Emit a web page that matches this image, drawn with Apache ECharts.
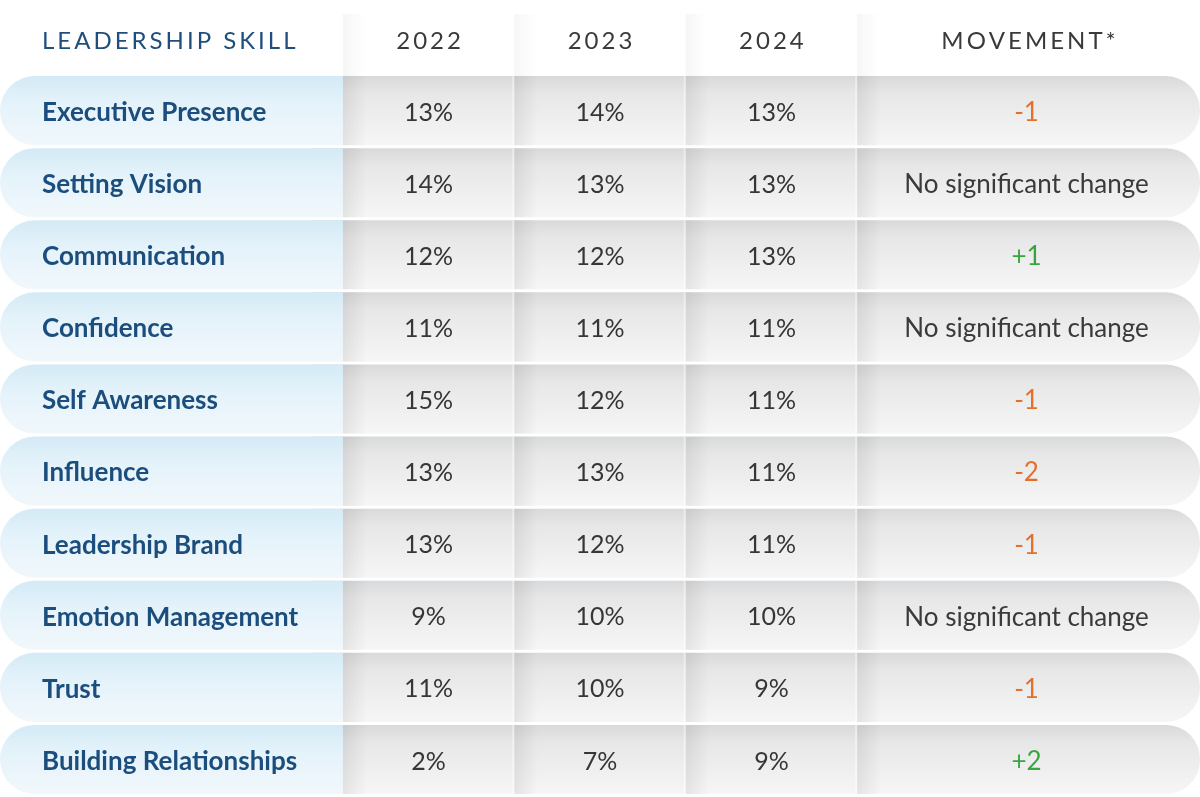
<!DOCTYPE html>
<html>
<head>
<meta charset="utf-8">
<style>
  html, body { margin: 0; padding: 0; background: #ffffff; }
  #chart { width: 1200px; height: 797px; }
</style>
<script src="https://cdn.jsdelivr.net/npm/echarts@6/dist/echarts.min.js"></script>
</head>
<body>
<div id="chart"></div>
<script>
// ---- data ----
const headers = ['LEADERSHIP SKILL', '2022', '2023', '2024', 'MOVEMENT*'];
const skills = ['Executive Presence', 'Setting Vision', 'Communication', 'Confidence', 'Self Awareness',
  'Influence', 'Leadership Brand', 'Emotion Management', 'Trust', 'Building Relationships'];
const v2022 = [13, 14, 12, 11, 15, 13, 13, 9, 11, 2];
const v2023 = [14, 13, 12, 11, 12, 13, 12, 10, 10, 7];
const v2024 = [13, 13, 13, 11, 11, 11, 11, 10, 9, 9];
const movement = [-1, null, 1, null, -1, -2, -1, null, -1, 2]; // null = no significant change
const noChangeText = 'No significant change';

// column spans in axis units: skill, 2022, 2023, 2024, movement
const colSpans = [2, 1, 1, 1, 2];
const colStarts = colSpans.map((s, i) => colSpans.slice(0, i).reduce((a, b) => a + b, 0));
const totalUnits = colSpans.reduce((a, b) => a + b, 0);

const yCats = ['header'].concat(skills);

function spaced(t) { return t.split('').join('\u2009'); }
function moveText(m) { return m === null ? noChangeText : (m > 0 ? '+' + m : String(m)); }
function moveColor(m) { return m === null ? '#3a3a3a' : (m > 0 ? '#3aa53c' : '#e3702c'); }

const FONT = 'Lato, "Noto Sans", sans-serif';

function renderRow(params, api) {
  const r = api.value(1);
  const c = api.coord([0, r]);
  const bandH = api.size([0, 1])[1];
  const unit = api.size([1, 0])[0];
  const x0 = c[0];
  const yc = c[1];
  const top = yc - bandH / 2;
  const h = bandH - 3;
  const mid = top + h / 2 + 2;
  const i = r - 1;
  const children = [];
  const grayX = x0 + colStarts[1] * unit - 30;
  const grayW = totalUnits * unit - (colStarts[1] * unit - 30);
  children.push({
    type: 'rect',
    shape: { x: grayX, y: top, width: grayW, height: h, r: [0, 34, 34, 0] },
    style: {
      fill: new echarts.graphic.LinearGradient(0, 0, 0, 1, [
        { offset: 0, color: '#d8d9da' },
        { offset: 0.25, color: '#e7e7e8' },
        { offset: 1, color: '#f6f6f6' }
      ])
    }
  });
  // column shadows
  for (let k = 1; k < colSpans.length; k++) {
    const bx = x0 + colStarts[k] * unit;
    children.push({
      type: 'rect',
      shape: { x: bx, y: top, width: 24, height: h },
      style: {
        fill: new echarts.graphic.LinearGradient(0, 0, 1, 0, [
          { offset: 0, color: 'rgba(0,0,0,0.075)' },
          { offset: 1, color: 'rgba(0,0,0,0)' }
        ])
      }
    });
    if (k > 1) {
      children.push({
        type: 'rect',
        shape: { x: bx - 2, y: top, width: 2, height: h },
        style: { fill: 'rgba(255,255,255,0.45)' }
      });
    }
  }
  // blue skill cell
  children.push({
    type: 'rect',
    shape: { x: x0, y: top, width: colSpans[0] * unit, height: h, r: [35, 0, 0, 35] },
    style: {
      fill: new echarts.graphic.LinearGradient(0, 0, 0, 1, [
        { offset: 0, color: '#d3eaf6' },
        { offset: 0.35, color: '#e3f2fa' },
        { offset: 1, color: '#f1f8fc' }
      ])
    }
  });
  children.push({
    type: 'text',
    style: {
      text: skills[i], x: x0 + 42, y: mid, fill: '#1b4d7d',
      font: 'bold 26px ' + FONT, textAlign: 'left', textVerticalAlign: 'middle'
    }
  });
  const vals = [v2022[i] + '%', v2023[i] + '%', v2024[i] + '%'];
  vals.forEach((t, k) => {
    children.push({
      type: 'text',
      style: {
        text: t, x: x0 + (colStarts[k + 1] + colSpans[k + 1] / 2) * unit, y: mid, fill: '#363636',
        font: '25px ' + FONT, textAlign: 'center', textVerticalAlign: 'middle'
      }
    });
  });
  children.push({
    type: 'text',
    style: {
      text: moveText(movement[i]), x: x0 + (colStarts[4] + colSpans[4] / 2) * unit - 2, y: mid,
      fill: moveColor(movement[i]),
      font: '26px ' + FONT, textAlign: 'center', textVerticalAlign: 'middle'
    }
  });
  return { type: 'group', children: children };
}

function renderHeader(params, api) {
  const c = api.coord([0, 0]);
  const bandH = api.size([0, 1])[1];
  const unit = api.size([1, 0])[0];
  const x0 = c[0];
  const top = c[1] - bandH / 2;
  const children = [];
  for (let k = 1; k < colSpans.length; k++) {
    const bx = x0 + colStarts[k] * unit;
    children.push({
      type: 'rect',
      shape: { x: bx, y: top + 10, width: 22, height: bandH - 10 },
      style: {
        fill: new echarts.graphic.LinearGradient(0, 0, 1, 0, [
          { offset: 0, color: 'rgba(0,0,0,0.035)' },
          { offset: 1, color: 'rgba(0,0,0,0)' }
        ])
      }
    });
  }
  headers.forEach((t, k) => {
    const first = k === 0;
    children.push({
      type: 'text',
      style: {
        text: spaced(t),
        x: first ? x0 + 42 : x0 + (colStarts[k] + colSpans[k] / 2) * unit,
        y: c[1] + 1,
        fill: first ? '#1f4e7d' : '#3a3a3a',
        font: '24px ' + FONT,
        textAlign: first ? 'left' : 'center', textVerticalAlign: 'middle'
      }
    });
  });
  return { type: 'group', children: children };
}

const chart = echarts.init(document.getElementById('chart'));
chart.setOption({
  animation: false,
  backgroundColor: '#ffffff',
  grid: { left: 0, right: 0, top: 4, bottom: 0 },
  xAxis: { type: 'value', min: 0, max: totalUnits, show: false },
  yAxis: { type: 'category', data: yCats, inverse: true, show: false },
  series: [
    {
      type: 'custom',
      renderItem: renderHeader,
      data: [[0, 0]],
      encode: { x: 0, y: 1 },
      silent: true
    },
    {
      type: 'custom',
      renderItem: renderRow,
      data: skills.map((s, i) => [0, i + 1]),
      encode: { x: 0, y: 1 },
      silent: true
    }
  ]
});
</script>
</body>
</html>
